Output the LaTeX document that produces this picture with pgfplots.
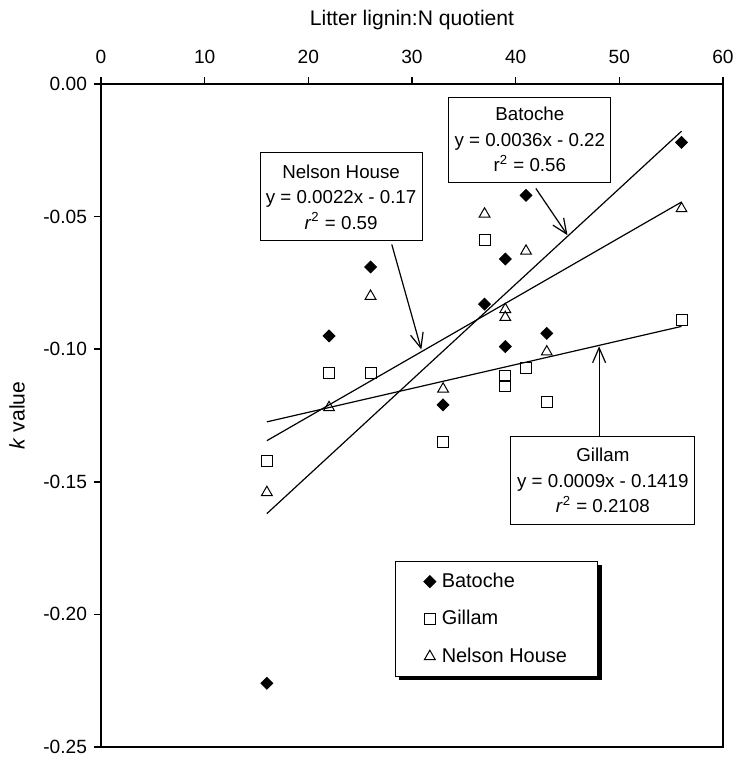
\documentclass[border=0pt]{standalone}
\usepackage{fontspec}
\setmainfont{Liberation Sans}
\usepackage{pgfplots}
\pgfplotsset{compat=1.18}
\usetikzlibrary{arrows.meta,shadows}

\pgfplotsset{onemark/.style={legend image code/.code={\draw[##1] plot coordinates {(0cm,0cm)};}}}
\tikzset{lbl/.style={draw=black,fill=white,line width=0.5bp,align=center,inner sep=1bp,
  font=\fontsize{9.4}{12.8}\selectfont},
  arr/.style={line width=0.6bp,-{Straight Barb[length=7.5bp,width=6.5bp]}}}

\begin{document}
\begin{tikzpicture}
\begin{axis}[
  name=ax,
  scale only axis,
  width=311bp,height=331.5bp,
  xmin=0,xmax=60,ymin=-0.25,ymax=0,
  xtick={0,10,...,60},
  ytick={-0.25,-0.20,-0.15,-0.10,-0.05,0},
  axis line style={line width=0.8bp},
  xtick pos=upper,xticklabel pos=upper,
  ytick pos=left,
  tick align=outside,
  major tick length=3.5bp,
  tick style={line width=0.8bp,black},
  yticklabel style={/pgf/number format/.cd,fixed,fixed zerofill,precision=2},
  xticklabel style={yshift=3bp},
  /pgf/number format/assume math mode=true,
  tick label style={font=\fontsize{9.6}{11}\selectfont},
  xlabel={Litter lignin:N quotient},
  ylabel={\textit{k} value},
  every axis x label/.style={at={(axis description cs:0.5,1)},anchor=center,yshift=32bp},
  every axis y label/.style={at={(axis description cs:-0.135,0.5)},anchor=center,rotate=90},
  label style={font=\fontsize{10.6}{12}\selectfont},
  legend cell align=left,
  legend style={at={(0.4733,0.28)},anchor=north west,draw=black,line width=0.5bp,fill=white,
    inner xsep=14bp,inner ysep=4bp,row sep=7bp,column sep=1.5bp,font=\fontsize{10}{12}\selectfont,
    nodes={inner sep=1.5bp},
    drop shadow={shadow xshift=1.8bp,shadow yshift=-1.8bp,opacity=1,fill=black}},
]
% trend lines (end points of the fitted lines)
\addplot[forget plot,line width=0.6bp] coordinates {(16,-0.1620) (56,-0.0178)};
\addplot[forget plot,line width=0.6bp] coordinates {(16,-0.1345) (56,-0.0445)};
\addplot[forget plot,line width=0.6bp] coordinates {(16,-0.1274) (56,-0.0914)};
% Batoche
\addplot[only marks,mark=square*,mark size=2.1bp,mark options={rotate=45,fill=black,draw=black},onemark]
 coordinates {(16,-0.226) (22,-0.095) (26,-0.069) (33,-0.121) (37,-0.083)
  (39,-0.066) (39,-0.099) (41,-0.042) (43,-0.094) (56,-0.022)};
% Gillam
\addplot[only marks,mark=square,mark size=2.75bp,mark options={line width=0.5bp,fill=white,draw=black},onemark]
 coordinates {(16,-0.142) (22,-0.109) (26,-0.109) (33,-0.135) (37,-0.059)
  (39,-0.110) (39,-0.114) (41,-0.107) (43,-0.120) (56,-0.089)};
% Nelson House
\addplot[only marks,mark=triangle,mark size=3.1bp,mark options={line width=0.5bp,fill=white,draw=black},onemark]
 coordinates {(16,-0.154) (22,-0.122) (26,-0.080) (33,-0.115) (37,-0.049)
  (39,-0.085) (39,-0.088) (41,-0.063) (43,-0.101) (56,-0.047)};
\legend{Batoche,Gillam,Nelson House}
% call-outs
\draw[arr] (axis cs:28.05,-0.0605) -- (axis cs:30.9,-0.1001);
\draw[arr] (axis cs:41.95,-0.0394) -- (axis cs:45.0,-0.0570);
\draw[arr] (axis cs:48.05,-0.1331) -- (axis cs:48.05,-0.0989);
\node[lbl,minimum width=81bp,minimum height=44bp] at (axis cs:23.16,-0.04257)
 {Nelson House\\y = 0.0022x - 0.17\\\textit{r}\textsuperscript{2} = 0.59};
\node[lbl,minimum width=81bp,minimum height=42.5bp] at (axis cs:41.37,-0.02094)
 {Batoche\\y = 0.0036x - 0.22\\r\textsuperscript{2} = 0.56};
\node[lbl,minimum width=92bp,minimum height=43.7bp] at (axis cs:48.41,-0.14955)
 {Gillam\\y = 0.0009x - 0.1419\\\textit{r}\textsuperscript{2} = 0.2108};
\end{axis}
\pgfresetboundingbox
\path ([shift={(-50.5bp,-5.5bp)}]ax.south west) rectangle ([shift={(6.5bp,42bp)}]ax.north east);
\end{tikzpicture}
\end{document}
